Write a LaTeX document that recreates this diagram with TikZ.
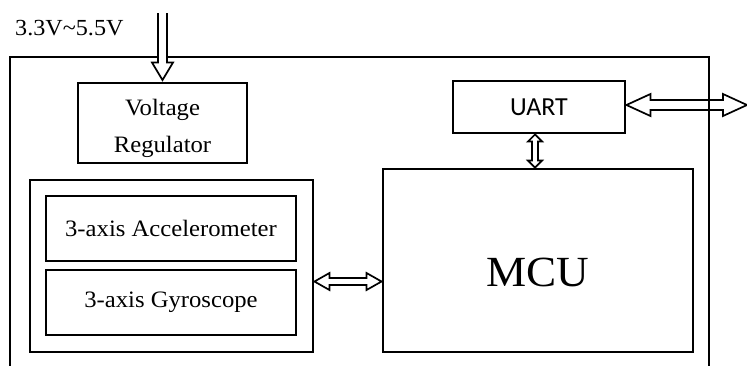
\documentclass[tikz,border=0pt]{standalone}
\usepackage{fontspec}
\setmainfont{Liberation Serif}[FakeStretch=1.05]
\newfontfamily\uartfont{Carlito}
\usetikzlibrary{calc}

% flecha doble horizontal: inicio, fin, medio ancho, medio ancho punta, largo punta
\newcommand{\FlechaH}[5]{%
	\draw[flecha] (#1) -- ([xshift=#5,yshift=#4]#1) -- ([xshift=#5,yshift=#3]#1)
		-- ([xshift=-#5,yshift=#3]#2) -- ([xshift=-#5,yshift=#4]#2) -- (#2)
		-- ([xshift=-#5,yshift=-#4]#2) -- ([xshift=-#5,yshift=-#3]#2)
		-- ([xshift=#5,yshift=-#3]#1) -- ([xshift=#5,yshift=-#4]#1) -- cycle;}
% flecha doble vertical, de arriba a abajo
\newcommand{\FlechaV}[5]{%
	\draw[flecha] (#1) -- ([yshift=-#5,xshift=#4]#1) -- ([yshift=-#5,xshift=#3]#1)
		-- ([yshift=#5,xshift=#3]#2) -- ([yshift=#5,xshift=#4]#2) -- (#2)
		-- ([yshift=#5,xshift=-#4]#2) -- ([yshift=#5,xshift=-#3]#2)
		-- ([yshift=-#5,xshift=-#3]#1) -- ([yshift=-#5,xshift=-#4]#1) -- cycle;}

\tikzset{
	caja/.style={draw,line width=2.9pt,inner sep=0pt,align=center,
		font=\fontsize{23.5}{37}\selectfont},
	flecha/.style={line width=1.7pt,line join=miter}
}

\begin{document}
\begin{tikzpicture}[x=1pt,y=-1pt]
\useasboundingbox (0,0) rectangle (747,365);
% marco exterior
\draw[line width=2.9pt] (10,368) -- (10,57) -- (709,57) -- (709,368);
\node[anchor=base west,inner sep=0pt,font=\fontsize{23}{26}\selectfont] (vcc) at (15,35)
	{3.3V\textasciitilde5.5V};
\coordinate (vin) at (162.5,13);
% bloques
\node[caja,minimum width=169pt,minimum height=80pt,text height=63pt,text depth=5pt]
	(vreg) at (162.5,123) {Voltage\\Regulator};
\node[caja,minimum width=172pt,minimum height=52pt,
	font=\uartfont\fontsize{26}{28}\selectfont] (uart) at (539,107) {UART};
\node[caja,minimum width=310pt,minimum height=183pt,text height=51pt,text depth=0pt,
	font=\fontsize{43}{48}\selectfont] (mcu) at (538,260.5) {MCU};
\node[caja,minimum width=283pt,minimum height=172pt] (sens) at (171.5,266) {};
\node[caja,minimum width=250pt,minimum height=65pt] (acc) at (171,228.5)
	{3-axis Accelerometer};
\node[caja,minimum width=250pt,minimum height=65pt] (gyro) at (171,302.5)
	{3-axis Gyroscope};
% flechas
\draw[flecha,fill=white] ([xshift=-4.5pt]vin) -- ([xshift=-4.5pt,yshift=19pt]vreg.north)
	-- ([xshift=-10.5pt,yshift=19pt]vreg.north) -- ([yshift=1.5pt]vreg.north)
	-- ([xshift=10.5pt,yshift=19pt]vreg.north) -- ([xshift=4.5pt,yshift=19pt]vreg.north)
	-- ([xshift=4.5pt]vin);
\coordinate (ext) at (747,105);
\coordinate (u0) at (uart.east |- ext);
\FlechaH{u0}{ext}{5pt}{11pt}{24pt}
\coordinate (u1) at ([xshift=-4pt]uart.south);
\coordinate (u2) at (u1 |- mcu.north);
\FlechaV{u1}{u2}{3pt}{7pt}{7pt}
\coordinate (s1) at ([yshift=-15.5pt]sens.east);
\coordinate (s2) at (s1 -| mcu.west);
\FlechaH{s1}{s2}{3.5pt}{8.5pt}{15pt}
\end{tikzpicture}
\end{document}
